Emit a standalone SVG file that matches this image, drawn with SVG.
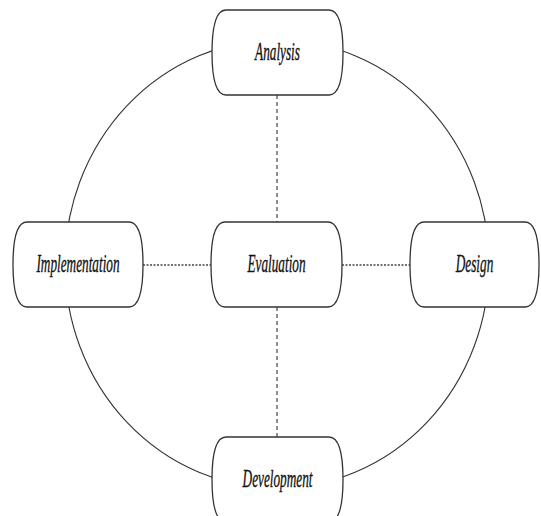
<svg xmlns="http://www.w3.org/2000/svg" width="541" height="516" viewBox="0 0 541 516">
<style>
.box{fill:#fff;stroke:#333;stroke-width:1.3}
.lbl{font-family:"Liberation Serif",serif;font-style:italic;font-size:25px;fill:#111;stroke:#111;stroke-width:0.35;text-anchor:middle}
.ring{fill:none;stroke:#333;stroke-width:1.1}
.dash{stroke:#444;stroke-width:1.2;stroke-dasharray:4 3}
.dot{stroke:#444;stroke-width:1.6;stroke-dasharray:2 1.5}
</style>
<rect width="541" height="516" fill="#fff"/>
<g id="connectors">
<ellipse class="ring" cx="277" cy="264" rx="212" ry="224"/>
<line class="dash" x1="277" y1="95" x2="277" y2="222"/>
<line class="dash" x1="277" y1="307" x2="277" y2="437"/>
<line class="dot" x1="143" y1="265" x2="211" y2="265"/>
<line class="dot" x1="342" y1="265" x2="410" y2="265"/>
</g>
<g id="analysis">
<path class="box" d="M226,10 H329 C340,10 343,31 343,52.5 C343,74 340,95 329,95 H226 C215,95 212,74 212,52.5 C212,31 215,10 226,10 Z"/>
<text class="lbl" transform="translate(277.5,60) scale(0.53,1)">Analysis</text>
</g>
<g id="implementation">
<path class="box" d="M27,222 H129 C140,222 143,243 143,264.5 C143,286 140,307 129,307 H27 C16,307 13,286 13,264.5 C13,243 16,222 27,222 Z"/>
<text class="lbl" transform="translate(78,272) scale(0.53,1)">Implementation</text>
</g>
<g id="evaluation">
<path class="box" d="M225,222 H328 C339,222 342,243 342,264.5 C342,286 339,307 328,307 H225 C214,307 211,286 211,264.5 C211,243 214,222 225,222 Z"/>
<text class="lbl" transform="translate(276.5,272) scale(0.53,1)">Evaluation</text>
</g>
<g id="design">
<path class="box" d="M424,222 H525 C536,222 539,243 539,264.5 C539,286 536,307 525,307 H424 C413,307 410,286 410,264.5 C410,243 413,222 424,222 Z"/>
<text class="lbl" transform="translate(474.5,272) scale(0.53,1)">Design</text>
</g>
<g id="development">
<path class="box" d="M226,437 H329 C340,437 343,458 343,479.5 C343,501 340,522 329,522 H226 C215,522 212,501 212,479.5 C212,458 215,437 226,437 Z"/>
<text class="lbl" transform="translate(277.5,487) scale(0.53,1)">Development</text>
</g>
</svg>
